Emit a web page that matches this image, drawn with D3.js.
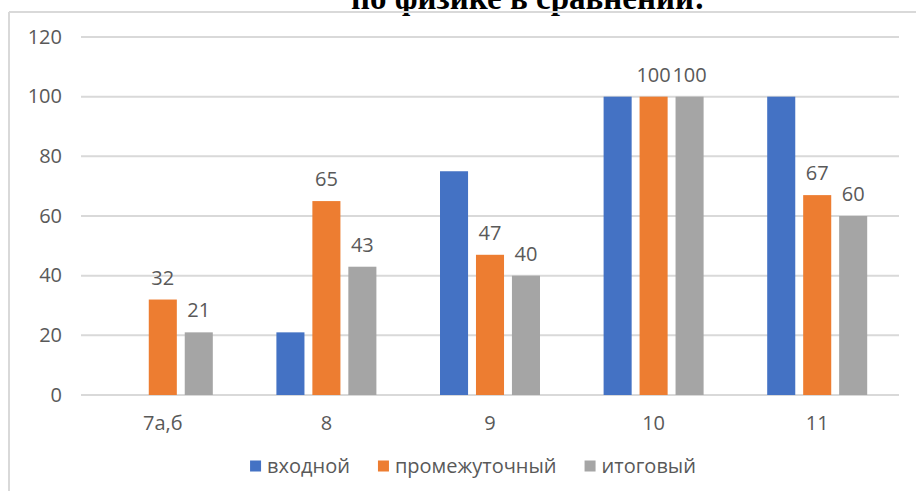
<!DOCTYPE html>
<html>
<head>
<meta charset="utf-8">
<script src="https://d3js.org/d3.v7.min.js"></script>
<style>
  body { margin: 0; background: #fff; }
  text { font-family: "Open Sans", sans-serif; fill: #595959; }
</style>
</head>
<body>
<svg id="viz" width="916" height="491"></svg>
<script>
var categories = ["7а,б", "8", "9", "10", "11"];
var seriesNames = ["входной", "промежуточный", "итоговый"];
var vhodnoy = [null, 21, 75, 100, 100];
var promezh = [32, 65, 47, 100, 67];
var itog = [21, 43, 40, 100, 60];
var yTicks = [0, 20, 40, 60, 80, 100, 120];
var titleText = "по физике в сравнении:";

var colors = ["#4472C4", "#ED7D31", "#A5A5A5"];
var showLabels = [false, true, true];
var seriesValues = [vhodnoy, promezh, itog];

var width = 916, height = 491;
var svg = d3.select("#viz");

// title, cut off at the top like in the screenshot
svg.append("text")
    .attr("x", 528).attr("y", 9)
    .attr("text-anchor", "middle")
    .style("font-family", "'Liberation Serif', serif")
    .style("font-weight", "bold")
    .style("font-size", "33px")
    .style("fill", "#000")
    .text(titleText);

// chart frame (top and left edges visible)
svg.append("line").attr("x1", 9).attr("x2", width).attr("y1", 12).attr("y2", 12)
    .attr("stroke", "#d9d9d9").attr("stroke-width", 2);
svg.append("line").attr("x1", 9).attr("x2", 9).attr("y1", 12).attr("y2", height)
    .attr("stroke", "#d9d9d9").attr("stroke-width", 2);

var x0 = d3.scaleBand().domain(categories).range([81, 899]).padding(0);
var x1 = d3.scaleBand().domain(d3.range(seriesNames.length)).range([0, 100]).paddingInner(0.22);
var y = d3.scaleLinear().domain([0, 120]).range([395, 37]);

// gridlines
svg.append("g").selectAll("line").data(yTicks).join("line")
    .attr("x1", 81).attr("x2", 899)
    .attr("y1", function(d) { return y(d); })
    .attr("y2", function(d) { return y(d); })
    .attr("stroke", "#d9d9d9").attr("stroke-width", 2);

// y labels
svg.append("g").selectAll("text").data(yTicks).join("text")
    .attr("x", 62)
    .attr("y", function(d) { return y(d) + 6.5; })
    .attr("text-anchor", "end")
    .style("font-size", "20px")
    .text(function(d) { return d; });

// x labels
svg.append("g").selectAll("text").data(categories).join("text")
    .attr("x", function(d) { return x0(d) + x0.bandwidth() / 2; })
    .attr("y", 430)
    .attr("text-anchor", "middle")
    .style("font-size", "20px")
    .text(function(d) { return d; });

// bars
var rows = [];
seriesValues.forEach(function(vals, s) {
  vals.forEach(function(v, i) {
    if (v !== null) rows.push({ s: s, cat: categories[i], v: v });
  });
});
function barX(d) { return x0(d.cat) + (x0.bandwidth() - 100) / 2 + x1(d.s); }

svg.append("g").selectAll("rect").data(rows).join("rect")
    .attr("x", barX)
    .attr("width", x1.bandwidth())
    .attr("y", function(d) { return y(d.v); })
    .attr("height", function(d) { return y(0) - y(d.v); })
    .attr("fill", function(d) { return colors[d.s]; });

// value labels
svg.append("g").selectAll("text").data(rows.filter(function(d) { return showLabels[d.s]; })).join("text")
    .attr("x", function(d) { return barX(d) + x1.bandwidth() / 2; })
    .attr("y", function(d) { return y(d.v) - 15; })
    .attr("text-anchor", "middle")
    .style("font-size", "20px")
    .text(function(d) { return d.v; });

// legend
var legend = svg.append("g");
var items = legend.selectAll("g").data(seriesNames).join("g");
items.append("rect").attr("width", 11).attr("height", 11).attr("y", -5.5)
    .attr("fill", function(d, i) { return colors[i]; });
items.append("text").attr("x", 17).attr("y", 6.5)
    .style("font-size", "20px")
    .text(function(d) { return d; });
var pos = 0;
items.each(function() {
  d3.select(this).attr("transform", "translate(" + pos + ",0)");
  pos += 17 + this.querySelector("text").getComputedTextLength() + 28;
});
var total = pos - 28;
legend.attr("transform", "translate(" + (473 - total / 2) + ",466)");
</script>
</body>
</html>
